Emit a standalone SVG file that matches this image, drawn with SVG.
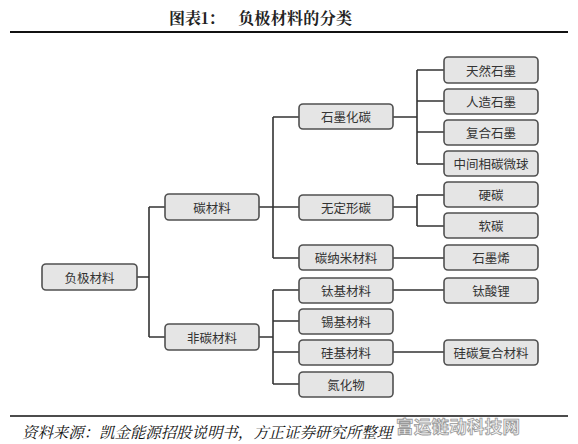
<svg xmlns="http://www.w3.org/2000/svg" width="578" height="444" viewBox="0 0 578 444">
<style>
.n rect{fill:#e5e5e5;stroke:#505050;stroke-width:1.6}
.n text{font-family:"Noto Sans CJK SC","Noto Sans",sans-serif;font-size:12.5px;fill:#333;text-anchor:middle;dominant-baseline:central}
.c{fill:none;stroke:#333;stroke-width:1.6}
</style>
<rect width="578" height="444" fill="#fff"/>
<text x="169" y="24" font-family="'Noto Serif CJK SC','Noto Sans CJK SC',serif" font-weight="bold" font-size="16" fill="#222">图表1：</text>
<text x="238" y="24" font-family="'Noto Serif CJK SC','Noto Sans CJK SC',serif" font-weight="bold" font-size="16" fill="#222" textLength="114">负极材料的分类</text>
<line x1="10" y1="32" x2="568" y2="32" stroke="#111" stroke-width="2.2"/>
<g id="connectors" class="c">
<path class="c" d="M137,277H149M149,207V337M149,207H165M149,337H165"/>
<path class="c" d="M259,207H273M273,117V258M273,117H299M273,207H299M273,258H299"/>
<path class="c" d="M259,337H273M273,290V384M273,290H299M273,321H299M273,352H299M273,384H299"/>
<path class="c" d="M393,117H417M417,70V164M417,70H444M417,101H444M417,132H444M417,164H444"/>
<path class="c" d="M393,207H417M417,195V226M417,195H444M417,226H444"/>
<path class="c" d="M393,258H444M393,290H444M393,352H444"/>
</g>
<g id="n-root" class="n"><rect x="42" y="264" width="95" height="26" rx="4"/><text x="89.5" y="277">负极材料</text></g>
<g id="n-carbon" class="n"><rect x="165" y="194" width="94" height="26" rx="4"/><text x="212" y="207">碳材料</text></g>
<g id="n-noncarbon" class="n"><rect x="165" y="324" width="94" height="26" rx="4"/><text x="212" y="337">非碳材料</text></g>
<g id="n-graphitized" class="n"><rect x="299" y="104" width="94" height="25" rx="4"/><text x="346" y="116.5">石墨化碳</text></g>
<g id="n-amorphous" class="n"><rect x="299" y="195" width="94" height="25" rx="4"/><text x="346" y="207.5">无定形碳</text></g>
<g id="n-nano" class="n"><rect x="299" y="245" width="94" height="25" rx="4"/><text x="346" y="257.5">碳纳米材料</text></g>
<g id="n-ti" class="n"><rect x="299" y="278" width="94" height="25" rx="4"/><text x="346" y="290.5">钛基材料</text></g>
<g id="n-sn" class="n"><rect x="299" y="309" width="94" height="25" rx="4"/><text x="346" y="321.5">锡基材料</text></g>
<g id="n-si" class="n"><rect x="299" y="340" width="94" height="25" rx="4"/><text x="346" y="352.5">硅基材料</text></g>
<g id="n-nitride" class="n"><rect x="299" y="372" width="94" height="25" rx="4"/><text x="346" y="384.5">氮化物</text></g>
<g id="n-natural" class="n"><rect x="444" y="57" width="94" height="26" rx="4"/><text x="491" y="70">天然石墨</text></g>
<g id="n-artificial" class="n"><rect x="444" y="89" width="94" height="25" rx="4"/><text x="491" y="101.5">人造石墨</text></g>
<g id="n-composite" class="n"><rect x="444" y="120" width="94" height="25" rx="4"/><text x="491" y="132.5">复合石墨</text></g>
<g id="n-mcmb" class="n"><rect x="444" y="151" width="94" height="25" rx="4"/><text x="491" y="163.5">中间相碳微球</text></g>
<g id="n-hard" class="n"><rect x="444" y="182" width="94" height="25" rx="4"/><text x="491" y="194.5">硬碳</text></g>
<g id="n-soft" class="n"><rect x="444" y="213" width="94" height="25" rx="4"/><text x="491" y="225.5">软碳</text></g>
<g id="n-graphene" class="n"><rect x="444" y="245" width="94" height="25" rx="4"/><text x="491" y="257.5">石墨烯</text></g>
<g id="n-lto" class="n"><rect x="444" y="278" width="94" height="25" rx="4"/><text x="491" y="290.5">钛酸锂</text></g>
<g id="n-sic" class="n"><rect x="444" y="340" width="94" height="25" rx="4"/><text x="491" y="352.5">硅碳复合材料</text></g>
<line x1="10" y1="416" x2="568" y2="416" stroke="#111" stroke-width="1.6"/>
<text x="22" y="438" font-family="'Noto Serif CJK SC','Noto Sans CJK SC',serif" font-style="italic" font-size="15.5" fill="#111" textLength="370">资料来源：凯金能源招股说明书，方正证券研究所整理</text>
<text x="396" y="433" font-family="'Noto Sans CJK SC',sans-serif" font-weight="bold" font-size="17.5" fill="#f4f4f4" stroke="#9a9a9a" stroke-width="0.8" textLength="124">富运链动科技网</text>
</svg>
